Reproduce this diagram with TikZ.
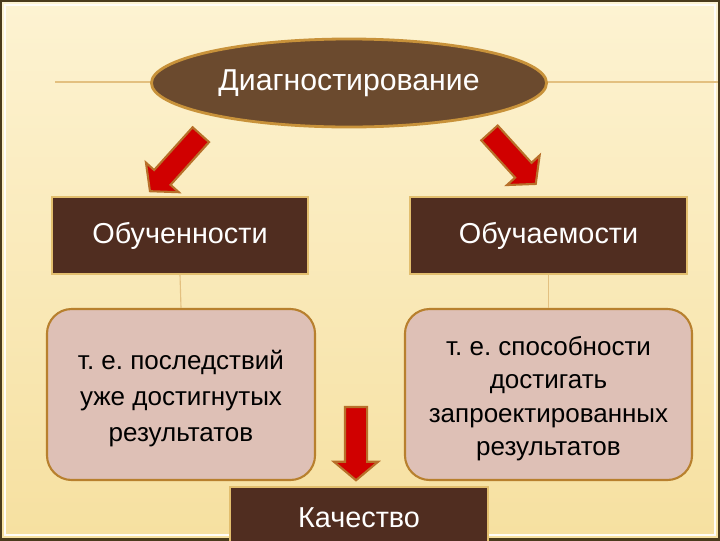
\documentclass[tikz,border=0pt]{standalone}
\usepackage{fontspec}
\setmainfont{Liberation Sans}
\usetikzlibrary{shapes,arrows,positioning}

\definecolor{bgtop}{HTML}{FDF3D2}
\definecolor{bgbot}{HTML}{F6E0A0}
\definecolor{framecol}{HTML}{4A3B1C}
\definecolor{ovalfill}{HTML}{6B4A2E}
\definecolor{ovaledge}{HTML}{C8923A}
\definecolor{darkfill}{HTML}{502D20}
\definecolor{darkedge}{HTML}{E2BE6E}
\definecolor{pinkfill}{HTML}{DEC0B6}
\definecolor{pinkedge}{HTML}{B8802E}
\definecolor{arrowred}{HTML}{D00000}
\definecolor{arrowedge}{HTML}{B8702A}
\definecolor{tanline}{HTML}{E3C080}

\newcommand{\topstrut}{\rule{0pt}{19.5pt}}

\begin{document}
\frenchspacing
\begin{tikzpicture}[x=0.025cm,y=-0.025cm]

  \tikzset{TopOval/.style =
	{ellipse, draw=ovaledge, line width=2pt, fill=ovalfill,
	text=white, font=\fontsize{21.5}{24}\selectfont,
	minimum width=9.875cm, minimum height=2.2cm},
    DarkBox/.style =
	{rectangle, draw=darkedge, line width=1pt, fill=darkfill,
	text=white, font=\fontsize{20.5}{24}\selectfont,
	minimum height=1.925cm},
    PinkBox/.style =
	{rectangle, rounded corners=0.62cm, draw=pinkedge, line width=1.5pt,
	fill=pinkfill, align=center, font=\fontsize{18.5}{25.5}\selectfont,
	minimum height=4.275cm},
    RedArrow/.style =
	{single arrow, draw=arrowedge, line width=1.5pt, fill=arrowred,
	inner xsep=0pt, inner ysep=0.25cm,
	single arrow head extend=0.275cm, single arrow tip angle=100},
    LinkStyle/.style = {draw=tanline, line width=0.8pt}}

  \useasboundingbox (0,0) rectangle (720,540);
  \clip (0,0) rectangle (720,540);

  % background and frame
  \shade[top color=bgtop, bottom color=bgbot] (0,0) rectangle (720,540);
  \draw[white!85!bgtop, line width=0.8pt] (5,5) rectangle (715,535);
  \draw[framecol, line width=2.5pt] (0,0) rectangle (720,540);
  \draw[tanline, line width=1pt] (55,82) -- (718,82);

  \node[TopOval] (diag) at (349,83) {Диагностирование};

  \node[DarkBox, minimum width=6.4cm] (obuchen) at (180,235.5) {Обученности};
  \node[DarkBox, minimum width=6.925cm] (obuchaem) at (548.5,235.5) {Обучаемости};

  \node[PinkBox, minimum width=6.7cm] (posled) at (181,394.5)
	{\topstrut т. е. последствий\\уже достигнутых\\результатов};
  \node[PinkBox, minimum width=7.175cm, font=\fontsize{18.5}{23.7}\selectfont]
	(sposob) at (548.5,394.5)
	{\topstrut т. е. способности\\достигать\\запроектированных\\результатов};

  \node[DarkBox, minimum width=6.45cm, minimum height=1.55cm] (kach) at (359,518)
	{Качество};

  \draw[LinkStyle] (obuchen.south) -- (posled.north);
  \draw[LinkStyle] (obuchaem.south) -- (sposob.north);

  % arrows
  \node[RedArrow, minimum height=1.9cm, rotate=228] (arrL) at (178.5,159.5) {};
  \node[RedArrow, minimum height=1.72cm, rotate=-47.8] (arrR) at (509.5,155) {};
  \node[RedArrow, minimum height=1.83cm, rotate=-90] (arrD) at (356,439) {};

\end{tikzpicture}
\end{document}
